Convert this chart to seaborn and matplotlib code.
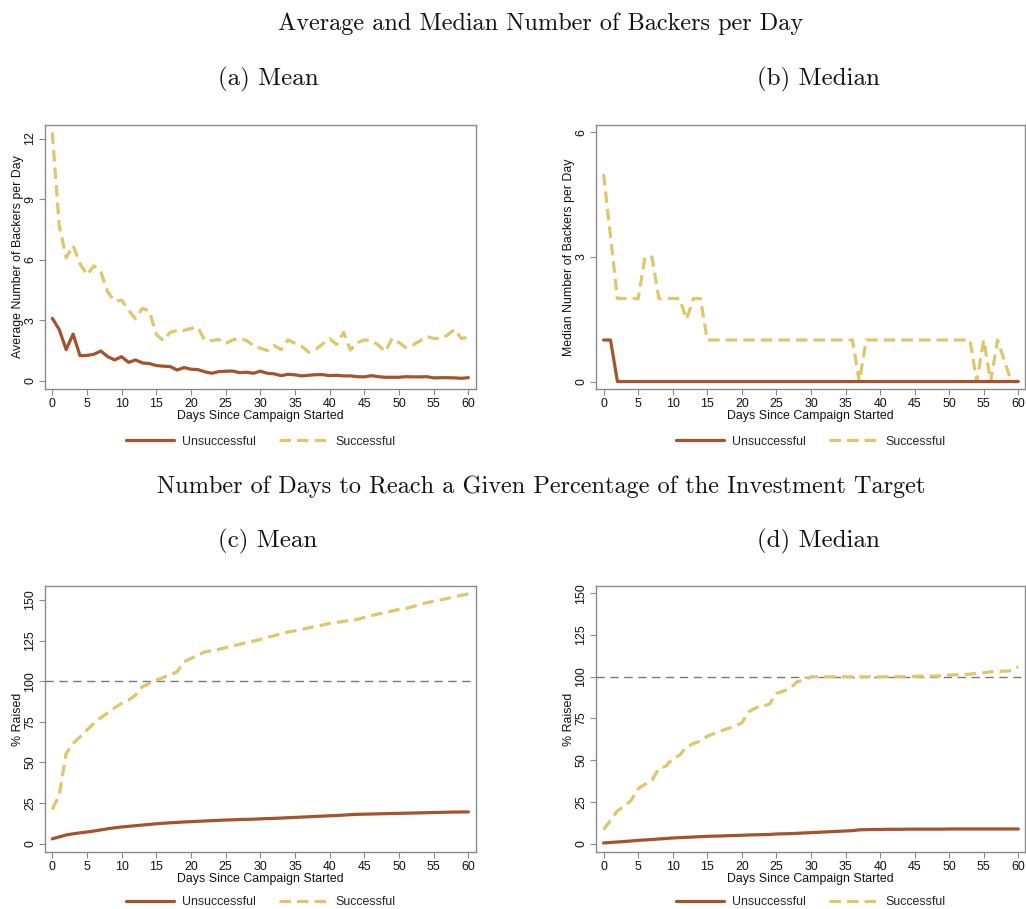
import numpy as np
import pandas as pd
import matplotlib
matplotlib.use("Agg")
import matplotlib.pyplot as plt
from matplotlib.lines import Line2D
import seaborn as sns

# ---- data -------------------------------------------------------------
days = list(range(61))

mean_backers_unsucc = [3.1, 2.55, 1.55, 2.32, 1.25, 1.26, 1.32, 1.48, 1.2, 1.04,
                       1.2, 0.92, 1.04, 0.89, 0.86, 0.76, 0.73, 0.71, 0.54, 0.66,
                       0.58, 0.56, 0.45, 0.38, 0.46, 0.48, 0.49, 0.41, 0.43, 0.38,
                       0.48, 0.38, 0.35, 0.26, 0.33, 0.3, 0.25, 0.28, 0.31, 0.31,
                       0.26, 0.28, 0.25, 0.25, 0.21, 0.2, 0.26, 0.21, 0.18, 0.18,
                       0.18, 0.21, 0.2, 0.2, 0.21, 0.15, 0.16, 0.16, 0.15, 0.13,
                       0.16]
mean_backers_succ = [12.3, 7.7, 6.1, 6.7, 5.8, 5.25, 5.7, 5.4, 4.4, 3.95,
                     4.0, 3.5, 3.07, 3.6, 3.45, 2.3, 2.0, 2.4, 2.5, 2.5,
                     2.6, 2.65, 2.0, 2.0, 2.05, 1.85, 2.03, 2.1, 2.0, 1.75,
                     1.62, 1.5, 1.75, 1.55, 2.03, 1.86, 1.7, 1.42, 1.57, 1.83,
                     2.1, 1.8, 2.4, 1.53, 1.9, 2.03, 2.0, 1.78, 1.45, 2.1,
                     1.9, 1.65, 1.78, 1.98, 2.2, 2.1, 2.1, 2.27, 2.55, 2.1,
                     2.16]

median_backers_unsucc = [1, 1] + [0] * 59
median_backers_succ = [5, 3.5, 2, 2, 2, 2, 3, 3, 2, 2,
                       2, 2, 1.5, 2, 2, 1, 1, 1, 1, 1,
                       1, 1, 1, 1, 1, 1, 1, 1, 1, 1,
                       1, 1, 1, 1, 1, 1, 1, 0, 1, 1,
                       1, 1, 1, 1, 1, 1, 1, 1, 1, 1,
                       1, 1, 1, 1, 0, 1, 0, 1, 0.5, 0,
                       0]

mean_raised_unsucc = [2.9, 4.1, 5.3, 6.0, 6.6, 7.1, 7.7, 8.4, 9.1, 9.7,
                      10.2, 10.6, 11.0, 11.4, 11.8, 12.2, 12.5, 12.8, 13.0, 13.3,
                      13.5, 13.7, 13.9, 14.1, 14.3, 14.5, 14.6, 14.8, 14.9, 15.0,
                      15.2, 15.4, 15.5, 15.7, 15.9, 16.1, 16.3, 16.5, 16.7, 16.9,
                      17.1, 17.3, 17.5, 17.8, 18.0, 18.1, 18.2, 18.3, 18.4, 18.5,
                      18.6, 18.7, 18.8, 18.9, 19.0, 19.1, 19.2, 19.3, 19.4, 19.45,
                      19.5]
mean_raised_succ = [21, 29.8, 55.5, 61.6, 65.7, 69.9, 74, 77.5, 80.5, 83.6,
                    86.3, 88.3, 91.4, 96.6, 98.6, 100.7, 102.3, 103.8, 105.8, 112,
                    114, 116, 118, 118.8, 119.6, 120.6, 121.6, 122.7, 123.7, 124.7,
                    125.7, 127, 128, 129.2, 130.3, 131, 131.9, 132.9, 133.8, 134.6,
                    135.6, 136.2, 136.8, 137.5, 138, 139.3, 140.3, 141.4, 142.2, 143.2,
                    144.2, 144.8, 145.9, 147.3, 148.3, 149.2, 150, 151, 152, 152.9,
                    153.7]

median_raised_unsucc = [0.4, 0.7, 1.0, 1.3, 1.6, 2.0, 2.2, 2.5, 2.8, 3.1,
                        3.4, 3.6, 3.8, 4.0, 4.2, 4.4, 4.5, 4.6, 4.8, 4.9,
                        5.0, 5.2, 5.3, 5.4, 5.5, 5.8, 5.9, 6.0, 6.2, 6.4,
                        6.6, 6.8, 7.0, 7.2, 7.4, 7.6, 7.8, 8.3, 8.4, 8.5,
                        8.5, 8.6, 8.6, 8.6, 8.7, 8.7, 8.7, 8.7, 8.7, 8.7,
                        8.8, 8.8, 8.8, 8.8, 8.8, 8.8, 8.8, 8.8, 8.8, 8.8,
                        8.8]
median_raised_succ = [8.4, 14, 19.6, 22.4, 26, 33, 35.6, 38, 45, 46.4,
                      51, 53, 58, 60, 61.4, 64.4, 66, 67.6, 69, 70.4,
                      72.4, 79, 81.4, 82.4, 83.6, 90, 91.4, 93, 97, 98,
                      100, 100, 100, 100, 100, 100, 100, 100, 100, 100,
                      100, 100, 100, 100, 100, 100.2, 100.4, 100.4, 100.4, 100.6,
                      101, 101.2, 101.4, 101.6, 102, 102.4, 103, 103.2, 103.4, 103.6,
                      106]

group_labels = ["Unsuccessful", "Successful"]
target_pct = 100

# ---- style ------------------------------------------------------------
sns.set_style("white")
plt.rcParams["font.family"] = ["Liberation Sans", "DejaVu Sans"]

BROWN = "#a4532d"
GOLD = "#e0c66a"
FRAME = "#8a8a8a"
TITLE_FONT = ["cmr10", "DejaVu Serif"]
FS = 8.9

W, H = 1026, 909
fig = plt.figure(figsize=(W / 100, H / 100), dpi=100)


def box(left, top, right, bottom):
    return [left / W, 1 - bottom / H, (right - left) / W, (bottom - top) / H]


def panel(rect, unsucc, succ, ylabel, yticks, ylim, xlim, hline=None,
          legend_y=-0.135):
    ax = fig.add_axes(rect)
    df = pd.DataFrame({"day": days, "unsucc": unsucc, "succ": succ})
    if hline is not None:
        ax.axhline(hline, color="#7a7a7a", lw=1.0, ls=(0, (6, 4)), zorder=1)
    sns.lineplot(data=df, x="day", y="unsucc", ax=ax, color=BROWN, lw=2.3,
                 legend=False, zorder=3)
    sns.lineplot(data=df, x="day", y="succ", ax=ax, color=GOLD, lw=2.3,
                 legend=False, zorder=2)
    ax.lines[-1].set_dashes((3.6, 1.9))
    ax.set_xlim(*xlim)
    ax.set_ylim(*ylim)
    ax.set_xticks(range(0, 61, 5))
    ax.set_yticks(yticks)
    ax.set_yticklabels([str(t) for t in yticks], rotation=90, va="center")
    ax.tick_params(axis="both", which="major", direction="out", length=4.3,
                   width=0.8, color=FRAME, labelsize=FS, labelcolor="#111111",
                   pad=2, left=True, bottom=True)
    for s in ax.spines.values():
        s.set_color(FRAME)
        s.set_linewidth(1.0)
    ax.set_xlabel("Days Since Campaign Started", fontsize=FS, labelpad=0,
                  color="#111111")
    ax.set_ylabel(ylabel, fontsize=FS, labelpad=0.5, color="#111111")
    handles = [Line2D([], [], color=BROWN, lw=2.3),
               Line2D([], [], color=GOLD, lw=2.3, dashes=(3.6, 1.9))]
    ax.legend(handles, group_labels, loc="upper center",
              bbox_to_anchor=(0.5, legend_y), ncol=2, frameon=False,
              fontsize=FS, handlelength=3.9, columnspacing=1.8,
              handletextpad=0.7)
    return ax


ax_a = panel(box(45, 125, 476, 389), mean_backers_unsucc, mean_backers_succ,
             "Average Number of Backers per Day", [0, 3, 6, 9, 12],
             (-0.4, 12.67), (-1.05, 61.1))
ax_b = panel(box(596, 125, 1025, 389), median_backers_unsucc, median_backers_succ,
             "Median Number of Backers per Day", [0, 3, 6],
             (-0.18, 6.18), (-1.1, 60.97))
ax_c = panel(box(45, 586, 476, 852), mean_raised_unsucc, mean_raised_succ,
             "% Raised", [0, 25, 50, 75, 100, 125, 150],
             (-5.2, 158.6), (-1.05, 61.1), hline=target_pct, legend_y=-0.125)
ax_d = panel(box(596, 586, 1025, 852), median_raised_unsucc, median_raised_succ,
             "% Raised", [0, 25, 50, 75, 100, 125, 150],
             (-5.0, 154.4), (-1.1, 60.97), hline=target_pct, legend_y=-0.125)

# ---- titles -----------------------------------------------------------
def ftext(x, y, s, size=17.5):
    fig.text(x / W, 1 - y / H, s, ha="center", va="center", fontsize=size,
             family=TITLE_FONT, color="#111111")


ftext(541, 24, "Average and Median Number of Backers per Day")
ftext(268, 79, "(a) Mean", 18)
ftext(818, 79, "(b) Median", 18)
ftext(541, 487, "Number of Days to Reach a Given Percentage of the Investment Target")
ftext(268, 541, "(c) Mean", 18)
ftext(818, 541, "(d) Median", 18)

fig.savefig("out.png", dpi=100, facecolor="white")
